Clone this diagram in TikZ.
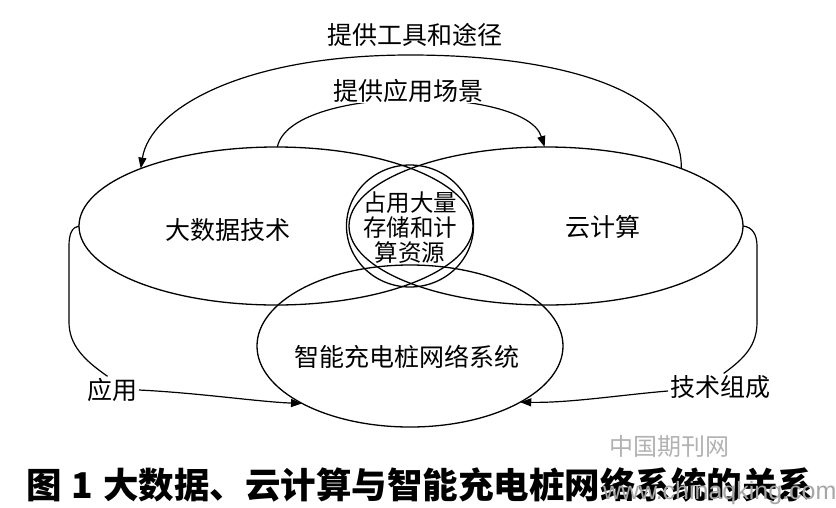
\documentclass[tikz,border=0pt]{standalone}
\usepackage{fontspec}
\newfontfamily\cjk{Noto Sans CJK SC}
\newfontfamily\wmfont{Liberation Sans}
\usetikzlibrary{shapes.geometric,arrows.meta}
\begin{document}
\begin{tikzpicture}[x=1pt,y=-1pt,
  every node/.style={inner sep=0pt, outer sep=0pt},
  set/.style={draw, line width=1.3pt, ellipse, minimum width=394pt, minimum height=158pt},
  lbl/.style={font=\cjk\fontsize{25}{27}\selectfont},
  conn/.style={line width=1.2pt},
  arr/.style={conn, -{Triangle[length=11pt,width=8pt]}}
]
\useasboundingbox (0,0) rectangle (836,507);
% sets
\node[set] (bd) at (276,226) {};
\node[set] (cc) at (546,226) {};
\node[draw, line width=1.3pt, ellipse, minimum width=127pt, minimum height=122pt] (mid) at (410,226) {};
\node[draw, line width=1.3pt, ellipse, minimum width=306pt, minimum height=162pt] (sys) at (410,346) {};
% texts
\node[lbl] (tbd) at (228,230) {大数据技术};
\node[lbl] (tcc) at (603,227) {云计算};
\node[font=\cjk\fontsize{23.5}{25}\selectfont, align=center] (tmid) at (410,228) {占用大量\\存储和计\\算资源};
\node[lbl] (tsys) at (407,357) {智能充电桩网络系统};
\node[lbl] (ttop) at (415,35) {提供工具和途径};
\node[lbl, inner sep=2pt] (yy) at (112,390) {应用};
\node[lbl, inner sep=2pt] (js) at (720,387) {技术组成};
% connectors
\draw[arr] (cc.23) .. controls (683,90) and (560,55) .. (410,55)
  .. controls (240,55) and (150,110) .. (bd.157);
\draw[arr] (bd.89) .. controls (290,85) and (525,85) .. (cc.91)
  node[lbl, fill=white, pos=0.5, yshift=10pt, inner sep=1pt] (tmidarc) {提供应用场景};
\draw[conn] (bd.180) .. controls (72,227) and (69,234) .. (69,246) -- (69,322)
  .. controls (69,345) and (84,360) .. (yy.108);
\draw[arr] (yy.east) .. controls (200,393) and (260,402) .. (sys.208);
\draw[conn] (cc.0) .. controls (752,227) and (757,234) .. (757,246) -- (757,322)
  .. controls (757,345) and (745,358) .. (js.75);
\draw[arr] ([yshift=-4pt]js.west) .. controls (620,395) and (570,403) .. (sys.333);
% caption
\node[font=\cjk\bfseries\fontsize{35.5}{37}\selectfont, anchor=west] (cap) at (26,485) {图\hspace{10pt}1\hspace{10pt}大数据、云计算与智能充电桩网络系统的关系};
% watermark
\node[font=\cjk\fontsize{24}{26}\selectfont, text=black!30] (wm1) at (669,446) {中国期刊网};
\node[font=\wmfont\fontsize{25}{27}\selectfont, text=black!35, anchor=west] (wm2) at (603,493) {www.chinaqking.com};
\end{tikzpicture}
\end{document}
